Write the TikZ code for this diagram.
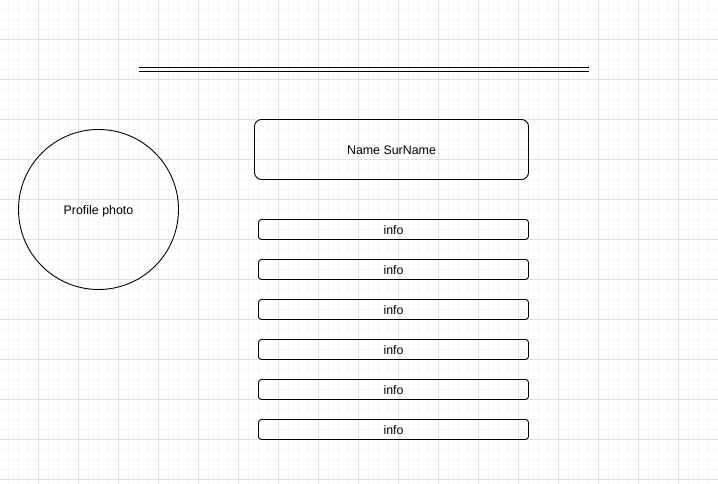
\documentclass[tikz,border=0pt]{standalone}
\usepackage{fontspec}
\setmainfont{Liberation Sans}
\begin{document}
\begin{tikzpicture}[x=1pt,y=-1pt,
  minorgrid/.style={draw=black!3.5,line width=0.8pt},
  majorgrid/.style={draw=black!12,line width=0.8pt},
  shapeline/.style={draw=black,line width=0.9pt},
  txt/.style={font=\fontsize{12.4}{14}\selectfont,text depth=0pt,yshift=-1pt},
  namebox/.style={shapeline,rounded corners=7pt,minimum width=274pt,minimum height=60pt,inner sep=0pt},
  infobox/.style={shapeline,rounded corners=3pt,minimum width=270pt,minimum height=20pt,inner sep=0pt},
  photo/.style={shapeline,circle,minimum size=160pt,inner sep=0pt}]
\useasboundingbox (0,0) rectangle (718,484);
\fill[white] (0,0) rectangle (718,484);
\foreach \i in {0,...,71} {\draw[minorgrid] (8.5+10*\i,0) -- (8.5+10*\i,484);}
\foreach \i in {0,...,47} {\draw[minorgrid] (0,9.5+10*\i) -- (718,9.5+10*\i);}
\foreach \i in {0,...,17} {\draw[majorgrid] (38.5+40*\i,0) -- (38.5+40*\i,484);}
\foreach \i in {0,...,11} {\draw[majorgrid] (0,39.5+40*\i) -- (718,39.5+40*\i);}
\coordinate (d1s) at (138.5,67.5);
\coordinate (d1e) at (589,67.5);
\coordinate (d2s) at (138.5,71.5);
\coordinate (d2e) at (589,71.5);
\draw[shapeline] (d1s) -- (d1e);
\draw[shapeline] (d2s) -- (d2e);
\node[photo] (photo) at (98.5,209.5) {};
\node[txt] (phototxt) at (photo.center) {Profile photo};
\node[namebox] (name) at (391.5,149.5) {};
\node[txt] (nametxt) at (name.center) {Name SurName};
\foreach \k in {0,...,5} {
  \node[infobox] (info\k) at (393.5,229.5+40*\k) {};
  \node[txt] (infotxt\k) at (info\k.center) {info};
}
\end{tikzpicture}
\end{document}
